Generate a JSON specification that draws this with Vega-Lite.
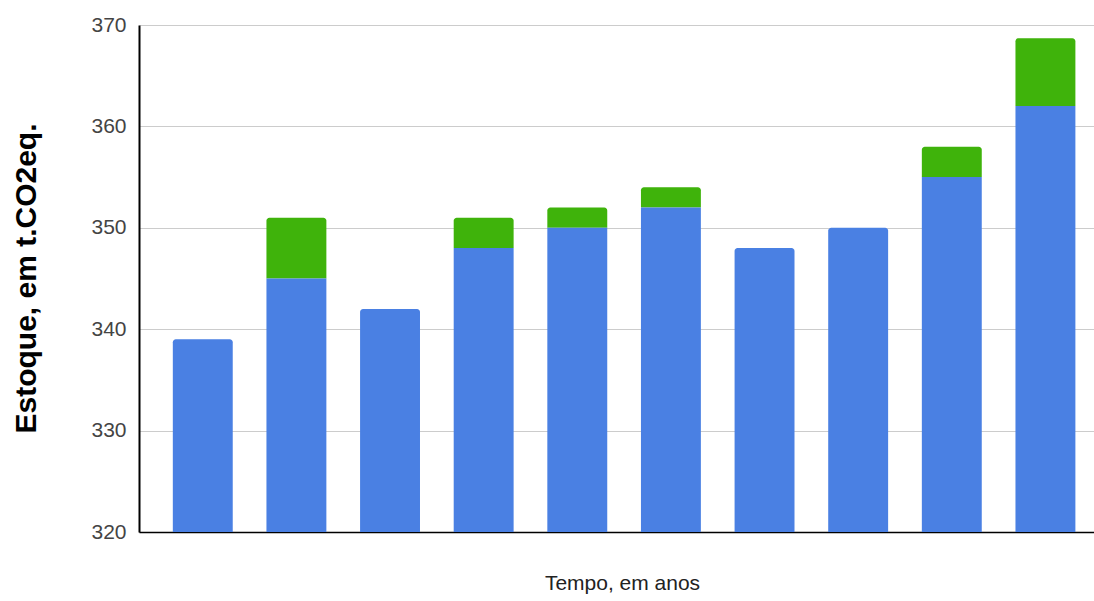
{
  "$schema": "https://vega.github.io/schema/vega-lite/v6.json",
  "autosize": {"type": "none"},
  "width": 955,
  "height": 507,
  "padding": {"left": 139, "top": 25, "right": 0, "bottom": 69},
  "background": "white",
  "config": {
    "font": "Liberation Sans",
    "view": {"stroke": null},
    "axis": {"labelFont": "Liberation Sans", "titleFont": "Liberation Sans"}
  },
  "data": {
    "values": [
      {"periodo": 1, "base": 339, "total": 339},
      {"periodo": 2, "base": 345, "total": 351},
      {"periodo": 3, "base": 342, "total": 342},
      {"periodo": 4, "base": 348, "total": 351},
      {"periodo": 5, "base": 350, "total": 352},
      {"periodo": 6, "base": 352, "total": 354},
      {"periodo": 7, "base": 348, "total": 348},
      {"periodo": 8, "base": 350, "total": 350},
      {"periodo": 9, "base": 355, "total": 358},
      {"periodo": 10, "base": 362, "total": 368.7}
    ]
  },
  "encoding": {
    "x": {
      "field": "periodo",
      "type": "ordinal",
      "scale": {"paddingInner": 0.36, "paddingOuter": 0.28, "align": 0.645},
      "axis": {
        "title": "Tempo, em anos",
        "labels": false,
        "ticks": false,
        "domainColor": "#000000",
        "domainWidth": 1.5,
        "titleFontSize": 21,
        "titleFontWeight": "normal",
        "titleColor": "#222222",
        "titleBaseline": "alphabetic",
        "titleX": 483,
        "titleY": 57
      }
    }
  },
  "layer": [
    {
      "transform": [{"filter": "datum.total > datum.base"}],
      "mark": {"type": "bar", "color": "#3fb30b", "cornerRadiusTopLeft": 3, "cornerRadiusTopRight": 3},
      "encoding": {
        "y": {
          "field": "total",
          "type": "quantitative",
          "scale": {"domain": [320, 370], "zero": false, "nice": false},
          "axis": {
            "title": "Estoque, em t.CO2eq.",
            "values": [320, 330, 340, 350, 360, 370],
            "ticks": false,
            "labelPadding": 13,
            "labelFontSize": 21,
            "labelColor": "#444444",
            "gridColor": "#cccccc",
            "gridWidth": 1.2,
            "domainColor": "#000000",
            "domainWidth": 2,
            "titleFontSize": 30,
            "titleFontWeight": "bold",
            "titleColor": "#000000",
            "titleBaseline": "alphabetic",
            "titleAngle": -90,
            "titleAlign": "center",
            "titleX": -104,
            "titleY": 253
          }
        },
        "y2": {"field": "base"}
      }
    },
    {
      "transform": [{"filter": "datum.total > datum.base"}],
      "mark": {"type": "bar", "color": "#4a80e3"},
      "encoding": {
        "y": {"field": "base", "type": "quantitative"},
        "y2": {"datum": 320}
      }
    },
    {
      "transform": [{"filter": "datum.total == datum.base"}],
      "mark": {"type": "bar", "color": "#4a80e3", "cornerRadiusTopLeft": 3, "cornerRadiusTopRight": 3},
      "encoding": {
        "y": {"field": "base", "type": "quantitative"},
        "y2": {"datum": 320}
      }
    }
  ]
}
